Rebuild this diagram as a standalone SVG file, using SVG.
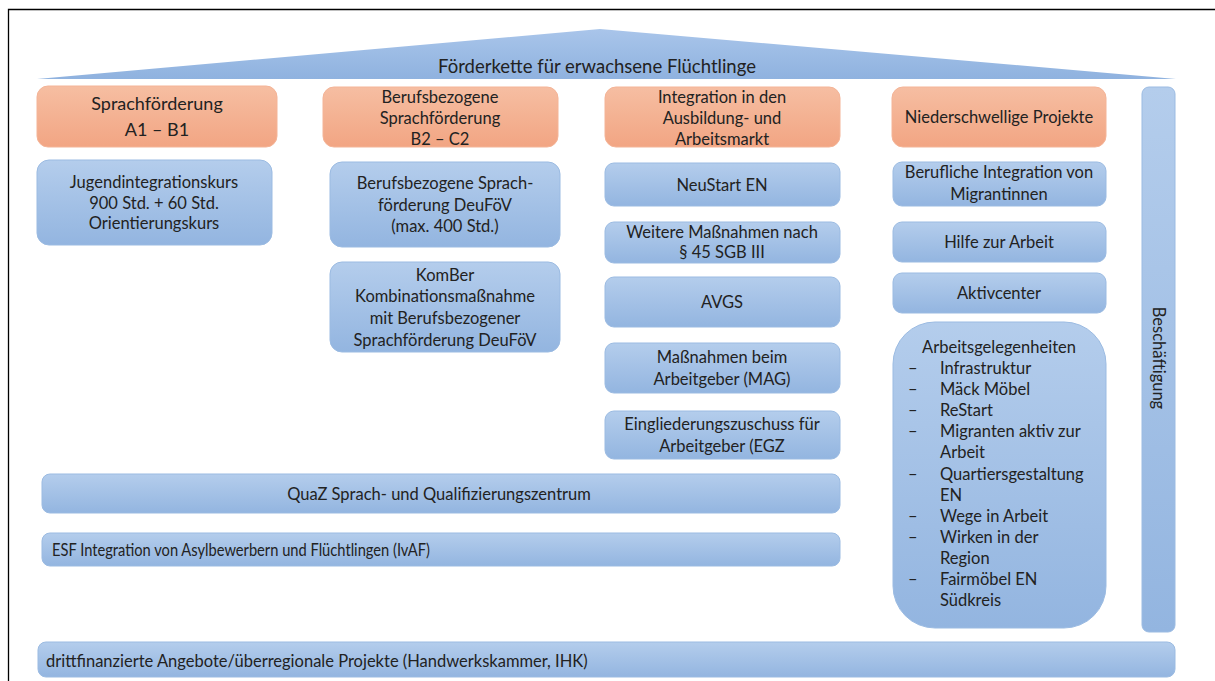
<svg xmlns="http://www.w3.org/2000/svg" width="1215" height="681" viewBox="0 0 1215 681">
<defs>
<linearGradient id="gBlue" x1="0" y1="0" x2="0" y2="1">
<stop offset="0" stop-color="#b4cdec"/>
<stop offset="1" stop-color="#93b5e0"/>
</linearGradient>
<linearGradient id="gOrange" x1="0" y1="0" x2="0" y2="1">
<stop offset="0" stop-color="#f6bea2"/>
<stop offset="1" stop-color="#f2a583"/>
</linearGradient>
<linearGradient id="gRoof" x1="0" y1="0" x2="0" y2="1">
<stop offset="0" stop-color="#a9c5ea"/>
<stop offset="1" stop-color="#8fb2df"/>
</linearGradient>
<style>
.b{fill:url(#gBlue);stroke:#9bbbe2;stroke-width:1}
.o{fill:url(#gOrange);stroke:#f4b497;stroke-width:1}
text{font-family:Lato,"Open Sans","Liberation Sans",sans-serif;fill:#222222;font-size:16.5px}
.c{text-anchor:middle}
.h{font-size:18px}
.t{font-size:18.5px}
</style>
</defs>
<rect width="1215" height="681" fill="#ffffff"/>
<path d="M8.5 681 V9.5 H1215" fill="none" stroke="#000000" stroke-width="1.3"/>

<g id="roof">
<polygon points="37,79 600,29 1176,79" fill="url(#gRoof)"/>
<text class="c t" x="597" y="73">Förderkette für erwachsene  Flüchtlinge</text>
</g>

<g id="h1"><rect class="o" x="37" y="86" width="240" height="61" rx="11"/>
<text class="c h" x="157" y="110">Sprachförderung</text>
<text class="c h" x="157" y="136">A1 – B1</text></g>

<g id="h2"><rect class="o" x="323" y="87" width="235" height="60" rx="11"/>
<text class="c" x="440" y="103">Berufsbezogene</text>
<text class="c" x="440" y="124">Sprachförderung</text>
<text class="c" x="440" y="145">B2 – C2</text></g>

<g id="h3"><rect class="o" x="605" y="87" width="235" height="60" rx="11"/>
<text class="c" x="722" y="103">Integration in den</text>
<text class="c" x="722" y="124">Ausbildung- und</text>
<text class="c" x="722" y="145">Arbeitsmarkt</text></g>

<g id="h4"><rect class="o" x="892" y="87" width="214" height="60" rx="11"/>
<text class="c" x="999" y="123">Niederschwellige Projekte</text></g>

<g id="n1"><rect class="b" x="37" y="160" width="235" height="85" rx="12"/>
<text class="c" x="154" y="188">Jugendintegrationskurs</text>
<text class="c" x="154" y="209">900 Std. + 60 Std.</text>
<text class="c" x="154" y="229">Orientierungskurs</text></g>

<g id="n2"><rect class="b" x="330" y="162" width="230" height="85" rx="12"/>
<text class="c" x="445" y="189">Berufsbezogene Sprach-</text>
<text class="c" x="445" y="211">förderung DeuFöV</text>
<text class="c" x="445" y="232">(max. 400 Std.)</text></g>

<g id="n3"><rect class="b" x="330" y="262" width="230" height="90" rx="12"/>
<text class="c" x="445" y="281">KomBer</text>
<text class="c" x="445" y="302">Kombinationsmaßnahme</text>
<text class="c" x="445" y="324">mit Berufsbezogener</text>
<text class="c" x="445" y="346">Sprachförderung DeuFöV</text></g>

<g id="n4"><rect class="b" x="605" y="163" width="235" height="43" rx="9"/>
<text class="c" x="722" y="191">NeuStart EN</text></g>

<g id="n5"><rect class="b" x="605" y="222" width="235" height="41" rx="9"/>
<text class="c" x="722" y="238">Weitere Maßnahmen nach</text>
<text class="c" x="722" y="258">§ 45 SGB III</text></g>

<g id="n6"><rect class="b" x="605" y="277" width="235" height="50" rx="9"/>
<text class="c" x="722" y="308">AVGS</text></g>

<g id="n7"><rect class="b" x="605" y="343" width="235" height="50" rx="9"/>
<text class="c" x="722" y="363">Maßnahmen beim</text>
<text class="c" x="722" y="385">Arbeitgeber (MAG)</text></g>

<g id="n8"><rect class="b" x="605" y="411" width="235" height="48" rx="9"/>
<text class="c" x="722" y="430">Eingliederungszuschuss für</text>
<text class="c" x="722" y="452">Arbeitgeber (EGZ</text></g>

<g id="n9"><rect class="b" x="893" y="162" width="213" height="44" rx="9"/>
<text class="c" x="999" y="178">Berufliche Integration von</text>
<text class="c" x="999" y="200">Migrantinnen</text></g>

<g id="n10"><rect class="b" x="893" y="222" width="213" height="40" rx="9"/>
<text class="c" x="999" y="248">Hilfe zur Arbeit</text></g>

<g id="n11"><rect class="b" x="893" y="273" width="213" height="40" rx="9"/>
<text class="c" x="999" y="299">Aktivcenter</text></g>

<g id="n12"><rect class="b" x="893" y="322" width="213" height="306" rx="42"/>
<text class="c" x="999" y="353">Arbeitsgelegenheiten</text>
<g>
<text x="908" y="374">–</text><text x="940" y="374">Infrastruktur</text>
<text x="908" y="395">–</text><text x="940" y="395">Mäck Möbel</text>
<text x="908" y="416">–</text><text x="940" y="416">ReStart</text>
<text x="908" y="437">–</text><text x="940" y="437">Migranten aktiv zur</text>
<text x="940" y="458">Arbeit</text>
<text x="908" y="480">–</text><text x="940" y="480">Quartiersgestaltung</text>
<text x="940" y="501">EN</text>
<text x="908" y="522">–</text><text x="940" y="522">Wege in Arbeit</text>
<text x="908" y="543">–</text><text x="940" y="543">Wirken in der</text>
<text x="940" y="564">Region</text>
<text x="908" y="585">–</text><text x="940" y="585">Fairmöbel EN</text>
<text x="940" y="606">Südkreis</text>
</g></g>

<g id="n13"><rect class="b" x="1142" y="87" width="33" height="545" rx="7"/>
<text class="c" x="0" y="0" transform="translate(1153,358) rotate(90)">Beschäftigung</text></g>

<g id="n14"><rect class="b" x="42" y="474" width="798" height="39" rx="8"/>
<text class="c" x="439" y="500">QuaZ Sprach- und Qualifizierungszentrum</text></g>

<g id="n15"><rect class="b" x="42" y="533" width="798" height="33" rx="8"/>
<text x="52" y="556" textLength="378" lengthAdjust="spacingAndGlyphs">ESF Integration von Asylbewerbern und Flüchtlingen (IvAF)</text></g>

<g id="n16"><rect class="b" x="38" y="642" width="1137" height="35" rx="8"/>
<text x="46" y="667">drittfinanzierte Angebote/überregionale Projekte (Handwerkskammer, IHK)</text></g>

<g id="connectors"></g>
</svg>
